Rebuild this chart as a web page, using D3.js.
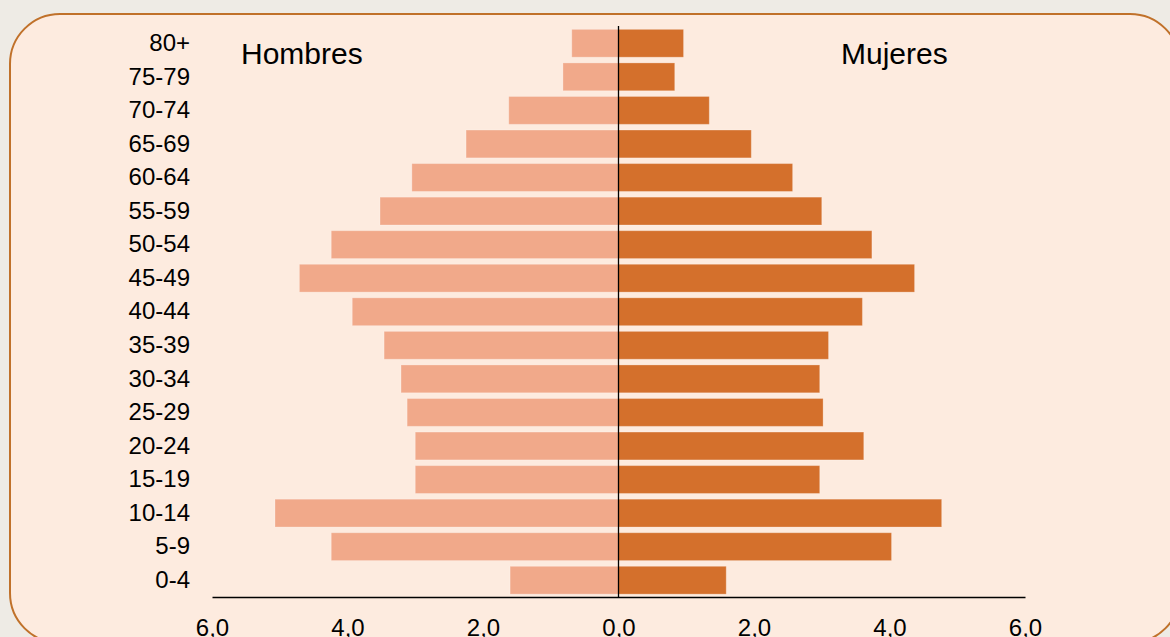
<!DOCTYPE html>
<html>
<head>
<meta charset="utf-8">
<script src="https://cdn.jsdelivr.net/npm/d3@7"></script>
<style>
  html, body { margin: 0; padding: 0; background: #EEEBE5; }
  svg { display: block; font-family: "Liberation Sans", Arial, sans-serif; }
</style>
</head>
<body>
<svg id="chart" width="1170" height="637"></svg>
<script>
const ageGroups = ["80+","75-79","70-74","65-69","60-64","55-59","50-54","45-49","40-44","35-39","30-34","25-29","20-24","15-19","10-14","5-9","0-4"];
const hombres = [0.69,0.82,1.62,2.25,3.05,3.52,4.24,4.71,3.93,3.46,3.21,3.12,3.00,3.00,5.07,4.24,1.60];
const mujeres = [0.96,0.83,1.34,1.96,2.57,3.00,3.74,4.37,3.60,3.10,2.97,3.02,3.62,2.97,4.77,4.03,1.59];
const xTicks = [-6,-4,-2,0,2,4,6];
const seriesNames = ["Hombres","Mujeres"];

const svg = d3.select("#chart");

// panel background
svg.append("rect")
  .attr("x", 10).attr("y", 14)
  .attr("width", 1170).attr("height", 629)
  .attr("rx", 50).attr("ry", 50)
  .attr("fill", "#FDEBDF")
  .attr("stroke", "#C0712A")
  .attr("stroke-width", 2);

const x = d3.scaleLinear().domain([-6, 6]).range([212, 1025]);
const y = d3.scaleBand().domain(ageGroups).range([26.5, 597])
  .paddingInner(0.17).paddingOuter(0.085);

// bars
svg.append("g").selectAll("rect")
  .data(ageGroups.map((g, i) => ({g, v: hombres[i]})))
  .join("rect")
  .attr("x", d => x(-d.v))
  .attr("y", d => y(d.g))
  .attr("width", d => x(0) - x(-d.v))
  .attr("height", y.bandwidth())
  .attr("fill", "#F1A98A")
  .attr("stroke", "rgba(255,255,255,0.25)")
  .attr("stroke-width", 1);

svg.append("g").selectAll("rect")
  .data(ageGroups.map((g, i) => ({g, v: mujeres[i]})))
  .join("rect")
  .attr("x", x(0))
  .attr("y", d => y(d.g))
  .attr("width", d => x(d.v) - x(0))
  .attr("height", y.bandwidth())
  .attr("fill", "#D4702C")
  .attr("stroke", "rgba(255,255,255,0.25)")
  .attr("stroke-width", 1);

// zero line
svg.append("line")
  .attr("x1", x(0)).attr("x2", x(0))
  .attr("y1", 26).attr("y2", 597)
  .attr("stroke", "#000").attr("stroke-width", 1.3);

// x axis
const xAxis = d3.axisBottom(x)
  .tickValues(xTicks)
  .tickSize(0)
  .tickSizeOuter(0)
  .tickPadding(22)
  .tickFormat(d => Math.abs(d).toFixed(1).replace(".", ","));
const gx = svg.append("g").attr("transform", "translate(0,597)").call(xAxis);
gx.select(".domain").attr("stroke", "#000").attr("stroke-width", 1.3);
gx.selectAll("text").attr("font-size", 24).attr("fill", "#000")
  .attr("font-family", "'Liberation Sans', Arial, sans-serif");

// y axis labels
const yAxis = d3.axisLeft(y).tickSize(0).tickPadding(0);
const gy = svg.append("g").attr("transform", "translate(190,0)").call(yAxis);
gy.select(".domain").remove();
gy.selectAll("text").attr("font-size", 24).attr("fill", "#000")
  .attr("font-family", "'Liberation Sans', Arial, sans-serif");

// series titles
svg.append("text")
  .attr("x", 241).attr("y", 63.5)
  .attr("font-size", 30).attr("fill", "#000")
  .text(seriesNames[0]);
svg.append("text")
  .attr("x", 841).attr("y", 63.5)
  .attr("font-size", 30).attr("fill", "#000")
  .text(seriesNames[1]);
</script>
</body>
</html>
